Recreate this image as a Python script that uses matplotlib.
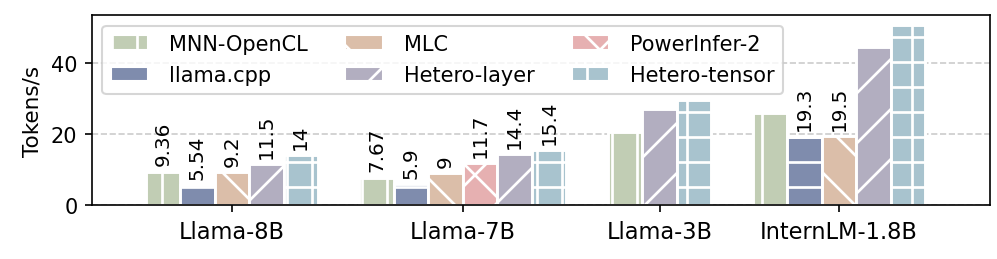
import matplotlib.pyplot as plt
from matplotlib.patches import Patch

plt.rcParams["hatch.color"] = "white"
plt.rcParams["hatch.linewidth"] = 1.3
plt.rcParams["font.size"] = 10

models = ["Llama-8B", "Llama-7B", "Llama-3B", "InternLM-1.8B"]
methods = ["MNN-OpenCL", "llama.cpp", "MLC", "PowerInfer-2", "Hetero-layer", "Hetero-tensor"]
colors = ["#c1cdb4", "#7f8cad", "#dbbea9", "#e6b0b1", "#b2aec0", "#a8c3ce"]
hatches = ["|", "-", "\\", "x", "/", "+"]

# tokens/s per model, None = not run
mnn = [9.36, 7.67, 20.6, 25.9]
llama_cpp = [5.54, 5.9, None, 19.3]
mlc = [9.2, 9.0, None, 19.5]
powerinfer = [None, 11.7, None, None]
hetero_layer = [11.5, 14.4, 27.0, 44.6]
hetero_tensor = [14.0, 15.4, 29.5, 50.6]
values = [mnn, llama_cpp, mlc, powerinfer, hetero_layer, hetero_tensor]

# which bars have their number written above them
mnn_show = [1, 1, 0, 0]
llama_cpp_show = [1, 1, 0, 1]
mlc_show = [1, 1, 0, 1]
powerinfer_show = [0, 1, 0, 0]
hetero_layer_show = [1, 1, 0, 0]
hetero_tensor_show = [1, 1, 0, 0]
shows = [mnn_show, llama_cpp_show, mlc_show, powerinfer_show, hetero_layer_show, hetero_tensor_show]

gap = 1.2
counts = [sum(v[g] is not None for v in values) for g in range(len(models))]
centers = [0.0]
for g in range(1, len(models)):
    centers.append(centers[-1] + counts[g - 1] / 2 + gap + counts[g] / 2)

# x position of every bar, packed and centred inside its group
xpos = [[None] * len(models) for _ in methods]
for g in range(len(models)):
    present = [m for m in range(len(methods)) if values[m][g] is not None]
    for k, m in enumerate(present):
        xpos[m][g] = centers[g] + k - (len(present) - 1) / 2

fig = plt.figure(figsize=(6.647, 1.733), dpi=150)
ax = fig.add_axes([0.0923, 0.2077, 0.9007, 0.7303])

for m, name in enumerate(methods):
    xs = [xpos[m][g] for g in range(len(models)) if values[m][g] is not None]
    ys = [values[m][g] for g in range(len(models)) if values[m][g] is not None]
    ax.bar(xs, ys, width=1.0, color=colors[m], edgecolor="white", linewidth=1.4,
           hatch=hatches[m], label=name, zorder=2)
    for g in range(len(models)):
        if values[m][g] is not None and shows[m][g]:
            ax.annotate(f"{values[m][g]:g}", (xpos[m][g], values[m][g]),
                        xytext=(0, 3), textcoords="offset points",
                        rotation=90, ha="center", va="bottom", fontsize=9.6)

ax.set_xticks(centers)
ax.set_xticklabels(models, fontsize=10.8)
ax.set_xlim(-4.05, 21.98)
ax.set_ylim(0, 53.5)
ax.set_yticks([0, 20, 40])
ax.set_ylabel("Tokens/s", fontsize=10.3)
ax.yaxis.grid(True, linestyle="--", color="#cccccc", linewidth=0.8)
ax.set_axisbelow(True)

handles = [Patch(facecolor=colors[m], edgecolor="white", hatch=hatches[m], label=methods[m])
           for m in [0, 1, 2, 4, 3, 5]]
ax.legend(handles=handles, ncol=3, loc="upper left", fontsize=10,
          handlelength=1.8, handletextpad=1.0, columnspacing=1.8,
          labelspacing=0.55, borderpad=0.4)

fig.savefig("out.png", dpi=150)
